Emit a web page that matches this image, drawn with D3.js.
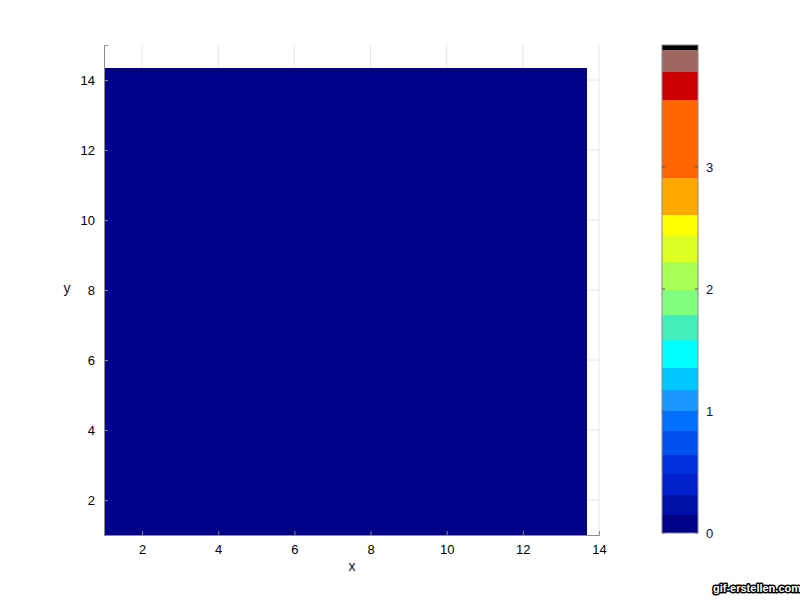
<!DOCTYPE html>
<html><head><meta charset="utf-8">
<script src="https://cdn.jsdelivr.net/npm/d3@7"></script>
<style>body{margin:0;background:#fff}svg{display:block;font-family:"Liberation Sans",Arial,sans-serif}</style>
</head><body>
<svg id="c" width="800" height="600"></svg>
<script>
// ---- data ----
const xTicks = [2, 4, 6, 8, 10, 12, 14];
const yTicks = [2, 4, 6, 8, 10, 12, 14];
const xDomain = [1, 14];
const yDomain = [1, 15];
const fieldX = [1, 13.66];   // extent of the field in x
const fieldY = [1, 14.34];   // extent of the field in y
const nCols = 14, nRows = 14;
const fieldValues = [
  [0,0,0,0,0,0,0,0,0,0,0,0,0,0],[0,0,0,0,0,0,0,0,0,0,0,0,0,0],
  [0,0,0,0,0,0,0,0,0,0,0,0,0,0],[0,0,0,0,0,0,0,0,0,0,0,0,0,0],
  [0,0,0,0,0,0,0,0,0,0,0,0,0,0],[0,0,0,0,0,0,0,0,0,0,0,0,0,0],
  [0,0,0,0,0,0,0,0,0,0,0,0,0,0],[0,0,0,0,0,0,0,0,0,0,0,0,0,0],
  [0,0,0,0,0,0,0,0,0,0,0,0,0,0],[0,0,0,0,0,0,0,0,0,0,0,0,0,0],
  [0,0,0,0,0,0,0,0,0,0,0,0,0,0],[0,0,0,0,0,0,0,0,0,0,0,0,0,0],
  [0,0,0,0,0,0,0,0,0,0,0,0,0,0],[0,0,0,0,0,0,0,0,0,0,0,0,0,0]
];
const cbDomain = [0, 4];
const cbTicks = [0, 1, 2, 3];
// colormap bands: lower bound of each band and its colour
const bandStarts = [0, 0.15, 0.31, 0.48, 0.64, 0.84, 1.0, 1.17, 1.35, 1.58, 1.79, 1.99, 2.22, 2.44, 2.61, 2.91, 3.55, 3.78, 3.96];
const bandColors = ["#000088", "#0011aa", "#0022cc", "#0033dd", "#0050ee", "#0070ff", "#1a98ff", "#00c8ff", "#00ffff", "#44eebb", "#80ff80", "#a8ff55", "#ddff22", "#ffff00", "#ffaa00", "#ff6600", "#cc0000", "#a06660", "#000000"];

// ---- drawing ----
const svg = d3.select("#c");
const x = d3.scaleLinear().domain(xDomain).range([104, 599]);
const y = d3.scaleLinear().domain(yDomain).range([535, 45]);
const cmap = d3.scaleThreshold().domain(bandStarts.slice(1)).range(bandColors);

// grid
const g = svg.append("g");
g.selectAll(".vg").data(xTicks).join("line")
  .attr("x1", d => x(d)).attr("x2", d => x(d)).attr("y1", y(yDomain[1])).attr("y2", y(yDomain[0]))
  .attr("stroke", "#e6e6e6").attr("stroke-width", 1);
g.selectAll(".hg").data(yTicks).join("line")
  .attr("y1", d => y(d)).attr("y2", d => y(d)).attr("x1", x(xDomain[0])).attr("x2", x(xDomain[1]))
  .attr("stroke", "#e6e6e6").attr("stroke-width", 1);

// field cells
const cw = (fieldX[1] - fieldX[0]) / nCols, ch = (fieldY[1] - fieldY[0]) / nRows;
const cells = [];
fieldValues.forEach((row, j) => row.forEach((v, i) => cells.push({i, j, v})));
svg.append("g").selectAll("rect").data(cells).join("rect")
  .attr("x", d => x(fieldX[0] + d.i * cw))
  .attr("y", d => y(fieldY[0] + (d.j + 1) * ch))
  .attr("width", d => x(fieldX[0] + (d.i + 1) * cw) - x(fieldX[0] + d.i * cw) + 0.5)
  .attr("height", d => y(fieldY[0] + d.j * ch) - y(fieldY[0] + (d.j + 1) * ch) + 0.5)
  .attr("fill", d => cmap(d.v)).attr("shape-rendering", "crispEdges");

// axes
const ax = svg.append("g").attr("transform", `translate(0,${y(yDomain[0])})`)
  .call(d3.axisBottom(x).tickValues(xTicks).tickSize(-4).tickPadding(10));
const ay = svg.append("g").attr("transform", `translate(${x(xDomain[0])},0)`)
  .call(d3.axisLeft(y).tickValues(yTicks).tickSize(-4).tickPadding(9));
[ax, ay].forEach(a => {
  a.select(".domain").attr("stroke", "#8c8c8c");
  a.selectAll(".tick line").attr("stroke", "#8c8c8c");
  a.selectAll("text").attr("font-size", 13).attr("fill", "#000")
    .attr("font-family", "Liberation Sans, Arial, sans-serif");
});
ay.selectAll("text").attr("dx", "0");

svg.append("text").attr("x", 352).attr("y", 571).attr("text-anchor", "middle")
  .attr("font-size", 14).attr("fill", "#10103a").text("x");
svg.append("text").attr("x", 67).attr("y", 293).attr("text-anchor", "middle")
  .attr("font-size", 14).attr("fill", "#10103a").text("y");

// colorbar
const cy = d3.scaleLinear().domain(cbDomain).range([533, 45]);
const cbX = 662, cbW = 36;
const bands = bandStarts.map((s, k) => ({s, e: k < bandStarts.length - 1 ? bandStarts[k + 1] : cbDomain[1], c: bandColors[k]}));
svg.append("g").selectAll("rect").data(bands).join("rect")
  .attr("x", cbX).attr("width", cbW)
  .attr("y", d => cy(d.e)).attr("height", d => cy(d.s) - cy(d.e))
  .attr("fill", d => d.c).attr("shape-rendering", "crispEdges");
svg.append("rect").attr("x", cbX).attr("y", cy(cbDomain[1])).attr("width", cbW)
  .attr("height", cy(cbDomain[0]) - cy(cbDomain[1]))
  .attr("fill", "none").attr("stroke", "#8a8a8a").attr("stroke-width", 1);
const ct = svg.append("g").selectAll("g").data(cbTicks).join("g");
ct.append("line").attr("x1", cbX).attr("x2", cbX + 3).attr("y1", d => cy(d)).attr("y2", d => cy(d)).attr("stroke", "#555");
ct.append("line").attr("x1", cbX + cbW - 3).attr("x2", cbX + cbW).attr("y1", d => cy(d)).attr("y2", d => cy(d)).attr("stroke", "#555");
ct.append("text").attr("x", cbX + cbW + 8).attr("y", d => cy(d) + 5)
  .attr("font-size", 13).attr("fill", "#10103a").text(d => d);

// watermark
svg.append("text").attr("x", 757).attr("y", 592).attr("text-anchor", "middle")
  .attr("font-size", 11).attr("font-weight", "bold").attr("fill", "#fff")
  .attr("stroke", "#000").attr("stroke-width", 3).attr("paint-order", "stroke")
  .attr("stroke-linejoin", "round").text("gif-erstellen.com");
</script>
</body></html>
